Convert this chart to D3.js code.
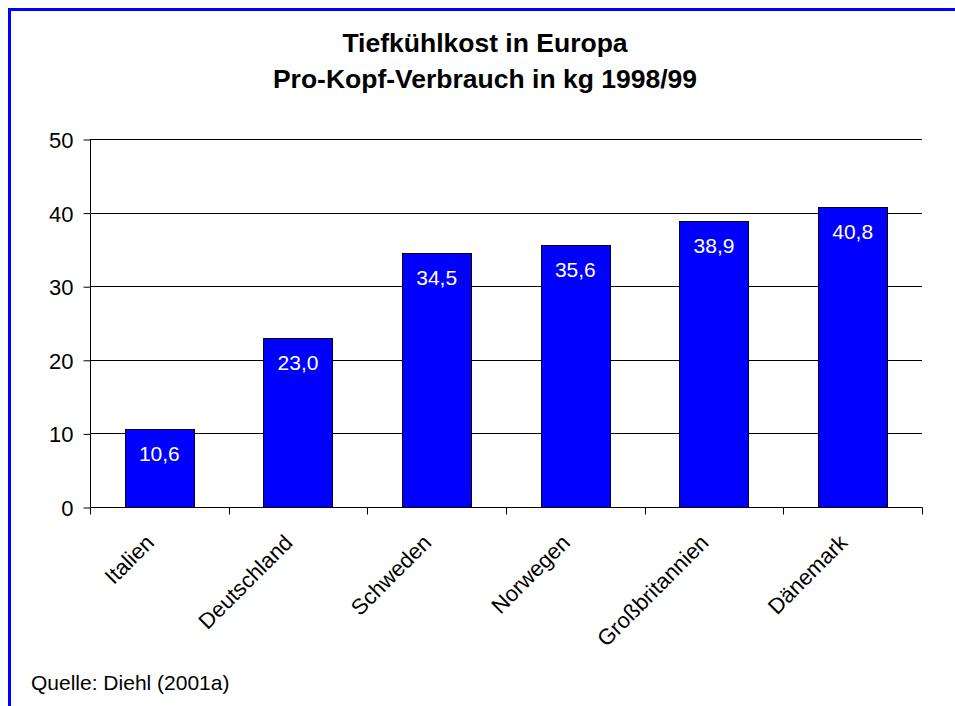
<!DOCTYPE html>
<html>
<head>
<meta charset="utf-8">
<script src="https://cdn.jsdelivr.net/npm/d3@7"></script>
<style>
  html, body { margin: 0; padding: 0; background: #fff; }
  svg { display: block; }
  text { font-family: "Liberation Sans", Arial, sans-serif; }
</style>
</head>
<body>
<svg id="chart" width="955" height="706"></svg>
<script>
const categories = ["Italien", "Deutschland", "Schweden", "Norwegen", "Großbritannien", "Dänemark"];
const values = [10.6, 23.0, 34.5, 35.6, 38.9, 40.8];
const yTicks = [0, 10, 20, 30, 40, 50];
const titleLines = ["Tiefkühlkost in Europa", "Pro-Kopf-Verbrauch in kg 1998/99"];
const sourceText = "Quelle: Diehl (2001a)";

(function () {
const svg = d3.select("#chart");
const W = 955, H = 706;
const pL = 90, pR = 922, pT = 139, pB = 507;

// blue frame (top and left)
svg.append("rect").attr("x", 8).attr("y", 8).attr("width", W - 8).attr("height", 3).attr("fill", "#0000ff");
svg.append("rect").attr("x", 8).attr("y", 8).attr("width", 3).attr("height", H - 8).attr("fill", "#0000ff");

// title
svg.append("g").selectAll("text").data(titleLines).join("text")
  .attr("x", 485).attr("y", (d, i) => 52 + i * 36)
  .attr("text-anchor", "middle")
  .attr("font-weight", "bold").attr("font-size", 26.5).attr("fill", "#000")
  .text(d => d);

const x = d3.scaleBand().domain(categories).range([pL, pR]).paddingInner(0).paddingOuter(0);
const y = d3.scaleLinear().domain([0, 50]).range([pB, pT]);

// gridlines
svg.append("g").selectAll("line").data(yTicks.filter(t => t > 0)).join("line")
  .attr("x1", pL).attr("x2", pR)
  .attr("y1", d => Math.round(y(d)) + 0.5).attr("y2", d => Math.round(y(d)) + 0.5)
  .attr("stroke", "#000").attr("stroke-width", 1);

// bars
const bw = x.bandwidth() / 2;
svg.append("g").selectAll("rect").data(values).join("rect")
  .attr("x", (d, i) => Math.round(x(categories[i]) + x.bandwidth() / 4) + 0.5)
  .attr("y", d => Math.round(y(d)) + 0.5)
  .attr("width", Math.round(bw))
  .attr("height", d => Math.round(y(0)) - Math.round(y(d)))
  .attr("fill", "#0000ff").attr("stroke", "#000").attr("stroke-width", 1);

// value labels
svg.append("g").selectAll("text").data(values).join("text")
  .attr("x", (d, i) => x(categories[i]) + x.bandwidth() / 2)
  .attr("y", d => y(d) + 32)
  .attr("text-anchor", "middle").attr("font-size", 21).attr("fill", "#fff")
  .text(d => d3.format(".1f")(d).replace(".", ","));

// y axis
const yAxis = d3.axisLeft(y).tickValues(yTicks).tickSize(7).tickPadding(10).tickFormat(d3.format("d"));
const gy = svg.append("g").attr("transform", `translate(${pL + 0.5},0.5)`).call(yAxis);
gy.select(".domain").attr("d", `M0,${pT}V${pB}`).attr("stroke", "#000");
gy.selectAll(".tick line").attr("stroke", "#000");
gy.selectAll(".tick text").attr("font-size", 22).attr("fill", "#000")
  .attr("font-family", "'Liberation Sans', Arial, sans-serif").attr("dy", "0.36em");

// x axis line and boundary ticks
const gx = svg.append("g").attr("transform", `translate(0.5,${Math.round(pB) + 0.5})`);
gx.append("line").attr("x1", pL).attr("x2", pR).attr("y1", 0).attr("y2", 0).attr("stroke", "#000");
const bounds = categories.map(c => x(c)).concat([pR]);
gx.selectAll("line.tk").data(bounds).join("line").attr("class", "tk")
  .attr("x1", d => Math.round(d)).attr("x2", d => Math.round(d))
  .attr("y1", 0).attr("y2", 7).attr("stroke", "#000");

// x labels rotated
svg.append("g").selectAll("text").data(categories).join("text")
  .attr("transform", d => `translate(${x(d) + x.bandwidth() / 2 - 4},${pB + 37}) rotate(-45)`)
  .attr("text-anchor", "end").attr("font-size", 22).attr("fill", "#000")
  .text(d => d);

// source
svg.append("text").attr("x", 31).attr("y", 690).attr("font-size", 21).attr("fill", "#000").text(sourceText);
})();
</script>
</body>
</html>
